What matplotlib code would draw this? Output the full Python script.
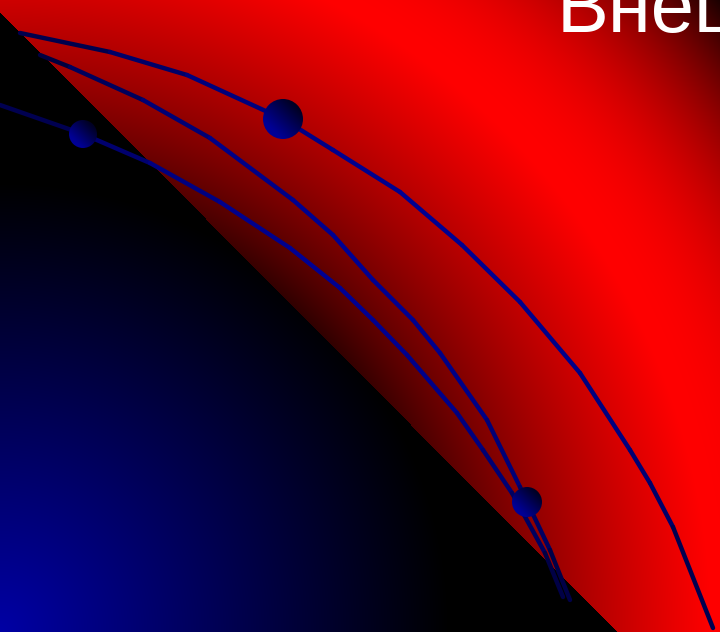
import numpy as np
import matplotlib
matplotlib.use('Agg')
import matplotlib.pyplot as plt
from matplotlib.collections import LineCollection
from matplotlib.patches import Circle

W = 720
H = 632

# curve points (pixel coords, y down)
curve_a_x = [20, 110, 187, 283, 333, 400, 462, 520, 580, 630, 650, 673, 713]
curve_a_y = [33, 52, 75, 119, 150, 192, 245, 302, 373, 450, 483, 527, 628]
curve_b_x = [40, 70, 143, 210, 293, 333, 373, 413, 440, 487, 520, 550, 570]
curve_b_y = [55, 67, 100, 138, 200, 235, 280, 320, 353, 420, 487, 550, 600]
curve_c_x = [0, 83, 150, 220, 290, 340, 373, 407, 457, 483, 512, 545, 563]
curve_c_y = [105, 134, 163, 202, 248, 288, 320, 355, 413, 450, 493, 553, 597]

# spheres: centre x, centre y, radius
sphere_x = [283, 83, 527]
sphere_y = [119, 134, 502]
sphere_r = [20, 14, 15]

title_text = 'Внешний'

# background
xx, yy = np.meshgrid(np.arange(W) + 0.5, np.arange(H) + 0.5)
rr = np.hypot(xx, yy - H)
inner = np.clip((rr - 410) / 302, 0, 1) ** 0.7
outer = np.clip(1 - ((rr - 712) / 260) ** 2, 0, 1)
red = np.where(rr < 712, inner, outer)
blue = 165 / 255 * np.clip(1 - rr / 450, 0, 1)
below = yy > 12 + xx * 620 / 617
img = np.zeros((H, W, 3))
img[..., 0] = np.where(below, 0, red)
img[..., 2] = np.where(below, blue, 0)

fig = plt.figure(figsize=(7.2, 6.32), dpi=100)
ax = fig.add_axes([0, 0, 1, 1])
ax.imshow(img, extent=(0, W, H, 0), interpolation='bilinear', zorder=0)


def shaded_line(xs, ys):
    pts = np.column_stack([xs, ys]).astype(float)
    seg = np.stack([pts[:-1], pts[1:]], axis=1)
    d = np.hypot(*(pts[1:] - pts[:-1]).T)
    s = np.concatenate([[0], np.cumsum(d)])
    t = (s[:-1] + s[1:]) / 2 / s[-1]
    b = (45 + 100 * np.sin(np.pi * t) ** 0.6) / 255
    cols = np.column_stack([np.zeros_like(b), np.zeros_like(b), b])
    lc = LineCollection(seg, colors=cols, linewidths=3.2, capstyle='round',
                        joinstyle='round', zorder=2)
    ax.add_collection(lc)


shaded_line(curve_a_x, curve_a_y)
shaded_line(curve_b_x, curve_b_y)
shaded_line(curve_c_x, curve_c_y)

for cx, cy, rad in zip(sphere_x, sphere_y, sphere_r):
    u, v = np.meshgrid(np.linspace(-1, 1, 60), np.linspace(-1, 1, 60))
    g = np.clip((-u + v) / 2.4 + 0.55, 0, 1)
    sp = np.zeros((60, 60, 3))
    sp[..., 2] = (35 + 115 * g) / 255
    im = ax.imshow(sp, extent=(cx - rad, cx + rad, cy + rad, cy - rad), zorder=3)
    circ = Circle((cx, cy), rad, fc='none', ec='none', transform=ax.transData)
    ax.add_patch(circ)
    im.set_clip_path(circ)

ax.text(557, 32, title_text, color='white', fontsize=56,
        family=['Liberation Sans', 'DejaVu Sans'], ha='left', va='baseline', zorder=4)

ax.set_xlim(0, W)
ax.set_ylim(H, 0)
ax.axis('off')
fig.savefig('out.png', dpi=100)
